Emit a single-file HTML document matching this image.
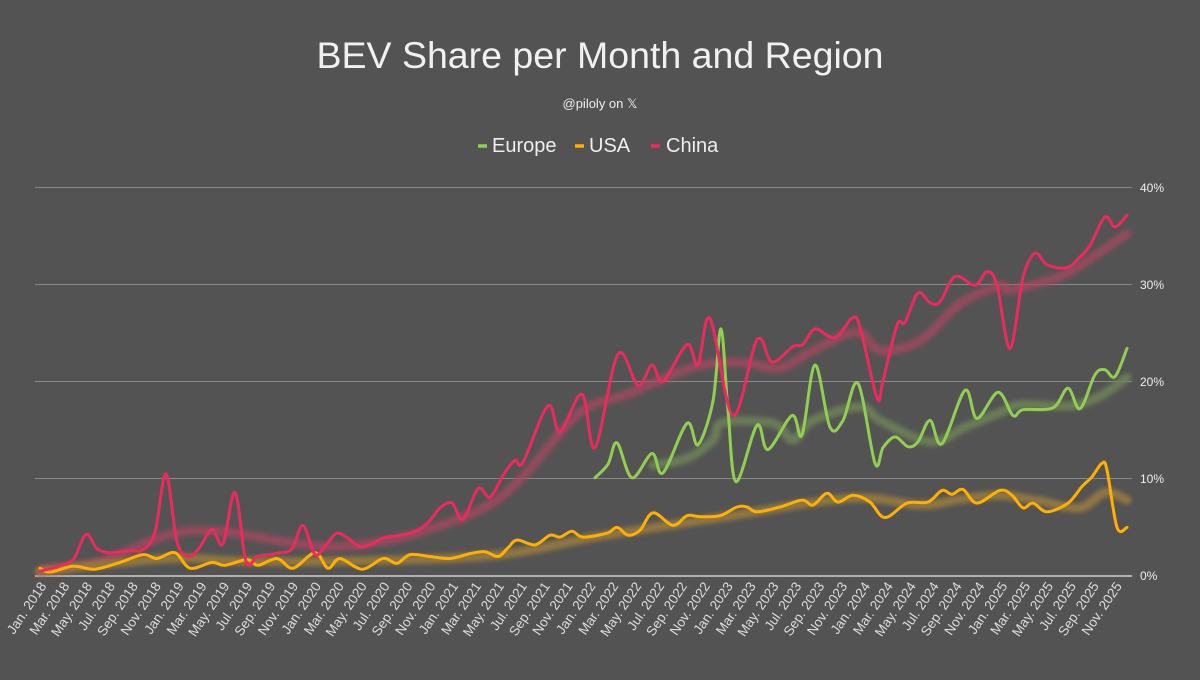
<!DOCTYPE html>
<html><head><meta charset="utf-8"><style>
body{margin:0;background:#535353;width:1200px;height:675px;overflow:hidden;font-family:"Liberation Sans",sans-serif}
</style></head><body>
<svg id="s" width="1200" height="675" xmlns="http://www.w3.org/2000/svg" font-family="Liberation Sans, sans-serif">
<rect width="1200" height="675" fill="#535353"/>
<defs><filter id="b" x="-5%" y="-20%" width="110%" height="140%"><feGaussianBlur stdDeviation="2"/></filter></defs>
<text x="600" y="68" fill="#f0f0f0" font-size="37.5" text-anchor="middle">BEV Share per Month and Region</text>
<text x="600" y="108" fill="#eee" font-size="13" text-anchor="middle">@piloly on 𝕏</text>
<g font-size="20" fill="#eee">
<line x1="478" y1="146" x2="487" y2="146" stroke="#92cf50" stroke-width="3.5"/><text x="492" y="152">Europe</text>
<line x1="575" y1="146" x2="584" y2="146" stroke="#ffb000" stroke-width="3.5"/><text x="589" y="152">USA</text>
<line x1="651" y1="146" x2="660" y2="146" stroke="#ec2a5e" stroke-width="3.5"/><text x="666" y="152">China</text>
</g>
<g stroke="#8a8a8a" stroke-width="1">
<line x1="35" y1="187.5" x2="1132" y2="187.5"/><line x1="35" y1="284.5" x2="1132" y2="284.5"/>
<line x1="35" y1="381.5" x2="1132" y2="381.5"/><line x1="35" y1="478.5" x2="1132" y2="478.5"/>
</g>
<line x1="35" y1="576" x2="1132" y2="576" stroke="#d0d0d0" stroke-width="1.5"/>
<g font-size="12" fill="#eee">
<text x="1140" y="192">40%</text><text x="1140" y="289">30%</text><text x="1140" y="386">20%</text><text x="1140" y="483">10%</text><text x="1140" y="580">0%</text>
</g>
<g id="lab" font-size="13.5" fill="#ddd" text-anchor="end"></g>
<g id="ser" fill="none" stroke-linecap="round" stroke-linejoin="round"></g>
</svg>
<script>
var Y=function(v){return 576-v*9.725};
function path(p){var d="M"+p[0][0]+","+Y(p[0][1]);for(var i=0;i<p.length-1;i++){var p0=p[i-1]||p[i],p1=p[i],p2=p[i+1],p3=p[i+2]||p2;
var c1x=p1[0]+(p2[0]-p0[0])/6,c1y=Y(p1[1])+(Y(p2[1])-Y(p0[1]))/6,c2x=p2[0]-(p3[0]-p1[0])/6,c2y=Y(p2[1])-(Y(p3[1])-Y(p1[1]))/6;
d+=" C"+c1x.toFixed(1)+","+c1y.toFixed(1)+" "+c2x.toFixed(1)+","+c2y.toFixed(1)+" "+p2[0]+","+Y(p2[1]).toFixed(1);}return d;}
var chinaT=[[40,0.5],[100,1.5],[170,4.3],[220,4.6],[280,3.6],[330,3.0],[380,3.5],[420,4.5],[480,6.8],[520,9.9],[580,16.8],[630,18.8],[680,21],[713,21.9],[747,21.9],[780,21.4],[813,23.2],[857,25.1],[880,23.2],[920,24.2],[960,28],[1000,29.9],[1010,29.4],[1060,30.8],[1090,32.6],[1127,35.2]];
var euT=[[653,11.4],[687,12.1],[713,14],[723,15.8],[773,15.7],[793,14],[813,16],[860,17.4],[880,16],[930,13.8],[965,15.3],[1000,16.8],[1020,17.6],[1070,17.5],[1100,18.5],[1127,20.4]];
var usT=[[40,0.5],[170,1.8],[250,1.5],[380,1.6],[500,2.2],[600,4.1],[720,6.0],[850,8.0],[920,7.3],[960,7.9],[1000,8.3],[1040,7.7],[1080,7.0],[1105,8.6],[1127,7.8]];
var china=[[40,0.5],[52,0.8],[63,1.2],[74,1.8],[86,4.3],[97,2.8],[109,2.4],[120,2.5],[132,2.6],[143,2.7],[155,4.5],[166,10.5],[177,3.5],[189,2],[200,3],[212,4.8],[223,3.3],[235,8.6],[246,1.5],[257,2],[269,2.2],[280,2.4],[292,2.8],[303,5.2],[315,2.2],[326,3.2],[337,4.4],[349,3.8],[360,3],[372,3.3],[383,3.9],[395,4.1],[406,4.3],[418,4.7],[429,5.6],[440,7],[452,7.5],[463,5.8],[478,9.0],[490,8.1],[504,10.5],[515,11.9],[523,11.7],[548,17.5],[560,14.8],[582,18.7],[595,13.2],[618,22.8],[638,19.6],[652,21.7],[663,20],[687,23.8],[698,21.7],[710,26.5],[733,16.5],[757,24.3],[772,22],[793,23.6],[803,23.8],[815,25.4],[835,24.5],[852,26.5],[860,25.6],[877,18.3],[883,20.1],[897,25.8],[905,26.1],[918,29.1],[930,28.1],[940,28.2],[955,30.8],[975,29.9],[987,31.3],[997,29.9],[1010,23.4],[1023,30.7],[1035,33.2],[1047,32],[1067,31.7],[1080,32.8],[1090,34],[1105,36.9],[1115,35.9],[1127,37.1]];
var eu=[[595,10.1],[608,11.5],[617,13.7],[632,10.1],[652,12.6],[663,10.6],[687,15.7],[698,13.5],[713,18],[721,25.4],[728,17],[736,9.7],[757,15.5],[768,13],[792,16.5],[802,14.5],[815,21.7],[830,15.3],[843,16],[858,19.8],[875,11.6],[883,13.2],[895,14.3],[908,13.3],[918,13.8],[930,16],[942,13.6],[965,19.1],[977,16.2],[998,18.9],[1013,16.5],[1023,17.1],[1053,17.3],[1068,19.3],[1080,17.2],[1095,20.7],[1105,21.2],[1115,20.5],[1127,23.4]];
var us=[[40,0.8],[50,0.4],[73,1.0],[95,0.7],[120,1.4],[143,2.2],[157,1.8],[175,2.4],[190,0.8],[212,1.4],[225,1.1],[247,1.7],[258,1.1],[277,1.8],[293,0.8],[315,2.4],[328,0.8],[340,1.8],[362,0.7],[383,1.8],[397,1.3],[410,2.2],[430,2.0],[450,1.8],[470,2.3],[485,2.5],[498,2.0],[508,2.9],[517,3.7],[535,3.2],[550,4.2],[560,4.0],[572,4.6],[583,4.0],[607,4.4],[617,5.0],[628,4.2],[640,4.7],[653,6.5],[673,5.2],[687,6.2],[700,6.1],[720,6.2],[737,7.1],[747,7.1],[757,6.6],[780,7.1],[802,7.8],[813,7.3],[827,8.5],[838,7.6],[853,8.3],[870,7.6],[885,6.0],[907,7.5],[928,7.6],[942,8.8],[952,8.4],[963,8.9],[977,7.5],[1000,8.8],[1012,8.3],[1023,7],[1033,7.5],[1047,6.6],[1068,7.5],[1082,9.2],[1092,10.2],[1102,11.6],[1107,10.9],[1117,5.0],[1127,5.0]];
var g=document.getElementById("ser"),h="";
h+='<path d="'+path(chinaT)+'" stroke="#a8485f" stroke-opacity="0.75" stroke-width="9" filter="url(#b)"/>';
h+='<path d="'+path(euT)+'" stroke="#6e8258" stroke-opacity="0.85" stroke-width="9" filter="url(#b)"/>';
h+='<path d="'+path(usT)+'" stroke="#9a7d3e" stroke-opacity="0.85" stroke-width="9" filter="url(#b)"/>';
h+='<path d="'+path(us)+'" stroke="#ffb000" stroke-width="3"/>';
h+='<path d="'+path(eu)+'" stroke="#92cf50" stroke-width="3"/>';
h+='<path d="'+path(china)+'" stroke="#ec2a5e" stroke-width="3"/>';
g.innerHTML=h;
var M=["Jan.","Mar.","May.","Jul.","Sep.","Nov."],l="";
for(var i=0;i<48;i++){var x=40+i*2*11.44,yr=2018+Math.floor(i/6);
l+='<text transform="translate('+(x+7).toFixed(1)+',586) rotate(-56)">'+M[i%6]+' '+yr+'</text>';}
document.getElementById("lab").innerHTML=l;
</script>
</body></html>
